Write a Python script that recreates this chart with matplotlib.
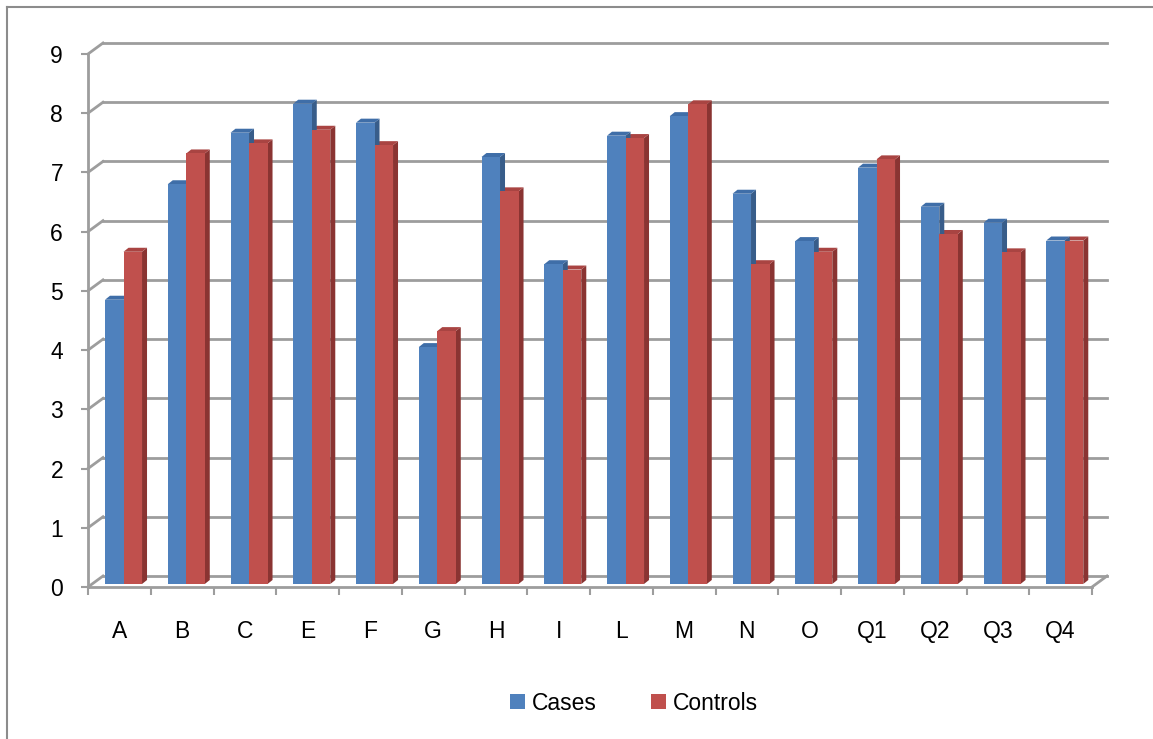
import numpy as np
import matplotlib.pyplot as plt
from matplotlib.patches import Polygon, Rectangle
from matplotlib.lines import Line2D
from matplotlib.transforms import ScaledTranslation

categories = ['A', 'B', 'C', 'E', 'F', 'G', 'H', 'I', 'L', 'M', 'N', 'O', 'Q1', 'Q2', 'Q3', 'Q4']
cases = [4.8, 6.75, 7.62, 8.11, 7.79, 4.0, 7.21, 5.4, 7.57, 7.9, 6.59, 5.79, 7.03, 6.37, 6.1, 5.8]
controls = [5.61, 7.27, 7.44, 7.67, 7.41, 4.27, 6.63, 5.31, 7.53, 8.1, 5.4, 5.61, 7.17, 5.91, 5.6, 5.8]
y_ticks = list(range(10))

W, H, DPI = 1153, 739, 100
fig = plt.figure(figsize=(W / DPI, H / DPI), dpi=DPI)
plt.rcParams['font.family'] = ['Liberation Sans', 'DejaVu Sans']

# front plane of the 3d box in pixels
left, right, bottom, top = 88, 1092, 587, 54
ax = fig.add_axes([left / W, 1 - bottom / H, (right - left) / W, (bottom - top) / H])
ax.set_xlim(0, len(categories))
ax.set_ylim(0, 9)
for s in ax.spines.values():
    s.set_visible(False)

# pixel -> data unit conversion
ux = len(categories) / (right - left)
uy = 9 / (bottom - top)
grid_c = '#9d9d9d'

# back wall gridlines + diagonals on the left wall
wdx, wdy = 15 * ux, 11 * uy
for v in y_ticks:
    ax.add_line(Line2D([wdx, len(categories) + wdx], [v + wdy, v + wdy], color=grid_c, lw=2, clip_on=False, zorder=1))
    ax.add_line(Line2D([0, wdx], [v, v + wdy], color=grid_c, lw=2, clip_on=False, zorder=1))
# floor front edge and right diagonal
ax.add_line(Line2D([0, len(categories)], [0, 0], color=grid_c, lw=2, clip_on=False, zorder=1))
ax.add_line(Line2D([len(categories), len(categories) + wdx], [0, wdy], color=grid_c, lw=2, clip_on=False, zorder=1))
# value axis line
ax.add_line(Line2D([0, 0], [0, 9], color=grid_c, lw=2, clip_on=False, zorder=1))

# bars sit slightly behind the front plane
shift = ax.transData + ScaledTranslation(0, 3 / DPI, fig.dpi_scale_trans)
bw = 0.295
x0 = np.arange(len(categories)) + 0.271
ddx, ddy = 5 * ux, 4 * uy

def draw_bar(x, h, face, side, topc):
    ax.add_patch(Polygon([[x + bw, 0], [x + bw + ddx, ddy], [x + bw + ddx, h + ddy], [x + bw, h]],
                         closed=True, fc=side, ec='none', transform=shift, clip_on=False, zorder=3))
    ax.add_patch(Polygon([[x, h], [x + ddx, h + ddy], [x + bw + ddx, h + ddy], [x + bw, h]],
                         closed=True, fc=topc, ec='none', transform=shift, clip_on=False, zorder=3))
    ax.add_patch(Rectangle((x, 0), bw, h, fc=face, ec='none', transform=shift, clip_on=False, zorder=4))

blue, blue_side, blue_top = '#4f81bd', '#385d8a', '#3f6ea8'
red, red_side, red_top = '#c0504d', '#8a3432', '#a94442'
for i in range(len(categories)):
    draw_bar(x0[i] + bw, controls[i], red, red_side, red_top)
    draw_bar(x0[i], cases[i], blue, blue_side, blue_top)

# ticks
ax.set_yticks(y_ticks)
ax.set_yticklabels([str(v) for v in y_ticks])
ax.set_xticks(np.arange(len(categories)) + 0.5)
ax.set_xticklabels(categories)
ax.set_xticks(np.arange(len(categories) + 1), minor=True)
ax.tick_params(axis='y', length=5, width=1.5, color=grid_c, pad=13, labelsize=16.5)
ax.tick_params(axis='x', which='major', length=0, pad=24, labelsize=16.5)
ax.tick_params(axis='x', which='minor', length=6, width=1.5, color=grid_c)

# legend
handles = [Rectangle((0, 0), 1, 1, fc=blue, ec='none'), Rectangle((0, 0), 1, 1, fc=red, ec='none')]
fig.legend(handles, ['Cases', 'Controls'], loc='center', bbox_to_anchor=(634 / W, 1 - 703 / H),
           ncol=2, frameon=False, fontsize=16.5, handlelength=0.65, handleheight=0.65,
           handletextpad=0.3, columnspacing=2.4)

# outer chart border (left and top visible)
fig.add_artist(Line2D([7 / W, 7 / W], [0, 1 - 7 / H], color='#8c8c8c', lw=1.5))
fig.add_artist(Line2D([7 / W, 1], [1 - 7 / H, 1 - 7 / H], color='#8c8c8c', lw=1.5))

fig.savefig('out.png', dpi=DPI)
